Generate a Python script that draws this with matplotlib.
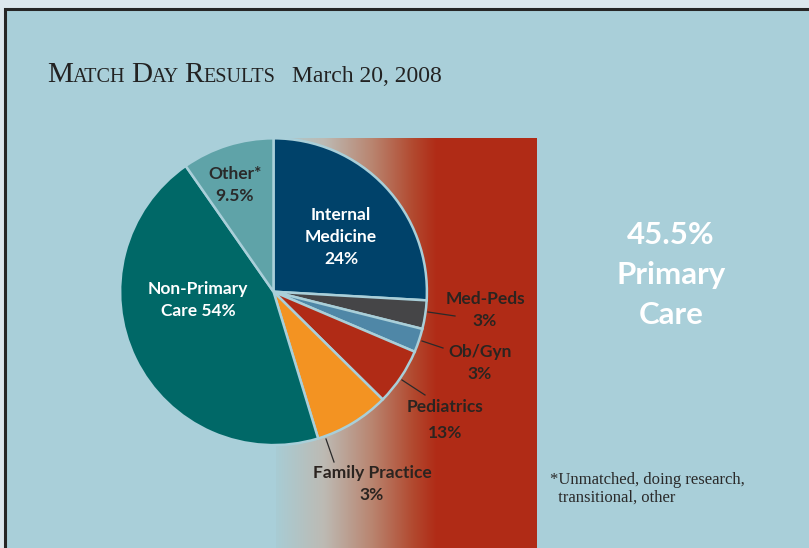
import numpy as np
import matplotlib
matplotlib.use('Agg')
import matplotlib.pyplot as plt
from matplotlib.colors import LinearSegmentedColormap
from matplotlib.patches import Rectangle

# slice sizes (percent of circle), clockwise from 12 o'clock
slices = ['Internal Medicine', 'Med-Peds', 'Ob/Gyn', 'Pediatrics',
          'Family Practice', 'Non-Primary Care', 'Other']
sizes = [25.9, 3.0, 2.5, 6.0, 7.9, 45.0, 9.7]
colors = ['#00426a', '#454547', '#4f87a7', '#b02b16', '#f39322', '#006867', '#5fa3a8']

# printed labels (as they appear on the chart)
inside_labels = ['Internal\nMedicine\n24%', 'Other*\n9.5%', 'Non-Primary\nCare 54%']
outside_labels = ['Med-Peds\n3%', 'Ob/Gyn\n3%', 'Pediatrics', '13%', 'Family Practice\n3%']
primary_total = '45.5%\nPrimary\nCare'
footnote = '*Unmatched, doing research,\n  transitional, other'

W, H = 809, 548
BG = '#a9cfd9'
RED = '#b02b16'


def Y(p):
    # pixel row (from top) -> data y
    return H - p


fig = plt.figure(figsize=(W / 100, H / 100), dpi=100)
fig.patch.set_facecolor('#dce7ed')
ax = fig.add_axes([0, 0, 1, 1])
ax.set_xlim(0, W)
ax.set_ylim(0, H)
ax.axis('off')

# panel with dark border on top / left
ax.add_patch(Rectangle((5, -10), W + 20, Y(9) + 10, facecolor=BG,
                       edgecolor='#262626', lw=2.2, zorder=0))

# gradient band behind the right half of the pie
cmap = LinearSegmentedColormap.from_list(
    'band', [(0.0, '#a8ccd4'), (0.3, '#bdbab3'), (0.6, '#b9846f'),
             (0.85, '#b24a30'), (1.0, RED)])
grad = np.linspace(0, 1, 256).reshape(1, -1)
ax.imshow(grad, cmap=cmap, extent=(276, 437, 0, Y(138)), aspect='auto', zorder=1)
ax.add_patch(Rectangle((436, 0), 537 - 436, Y(138), facecolor=RED,
                       edgecolor='none', zorder=1))

# pie
cx, cy, r = 273.5, 291.7, 153.4
wedges, _ = ax.pie(sizes, colors=colors, startangle=90, counterclock=False,
                   center=(cx, Y(cy)), radius=r, frame=True,
                   wedgeprops=dict(edgecolor=BG, linewidth=1.8, zorder=3))
ax.set_xlim(0, W)
ax.set_ylim(0, H)
ax.set_aspect('auto')
ax.axis('off')

lab = dict(family=['Lato', 'DejaVu Sans'], fontweight='bold', fontsize=12.5,
           ha='center', va='center', zorder=5, linespacing=1.45)

ax.text(341, Y(237), inside_labels[0], color='white', **lab)
ax.text(235, Y(185), inside_labels[1], color='#2a2a2a', **lab)
ax.text(198, Y(300), inside_labels[2], color='white', **lab)

dark = '#2b2420'
ax.text(485, Y(310), outside_labels[0], color=dark, **lab)
ax.text(480, Y(363), outside_labels[1], color=dark, **lab)
ax.text(445, Y(407), outside_labels[2], color=dark, **lab)
ax.text(445, Y(433), outside_labels[3], color=dark, **lab)
ax.text(372, Y(484), outside_labels[4], color=dark, **lab)

# leader lines
leaders = [((428, 312), (455, 316)), ((422, 341), (443, 348)),
           ((402, 380), (425, 395)), ((326, 439), (334, 462))]
for (x0, y0), (x1, y1) in leaders:
    ax.plot([x0, x1], [Y(y0), Y(y1)], color='#2a2a2a', lw=0.9, zorder=4)

ax.text(671, Y(275), primary_total, color='white', fontsize=22.5,
        family=['Lato', 'DejaVu Sans'], fontweight='bold', ha='center',
        va='center', linespacing=1.5, zorder=5)

ax.text(550, Y(489), footnote, color='#2a2a2a', fontsize=12,
        family='Liberation Serif', ha='left', va='center', linespacing=1.1, zorder=5)

# title with small caps
renderer = fig.canvas.get_renderer()
parts = [('M', 21), ('ATCH', 14.5), (' ', 0), ('D', 21), ('AY', 14.5), (' ', 0),
         ('R', 21), ('ESULTS', 14.5)]
x = 47
base = Y(82)
for s, fs in parts:
    if s == ' ':
        x += 5
        continue
    t = ax.text(x, base, s, fontsize=fs, family='Liberation Serif', color='#222222',
                ha='left', va='baseline', zorder=5)
    bb = t.get_window_extent(renderer)
    x = bb.x1 + 0.2
ax.text(x + 16, base, 'March 20, 2008', fontsize=17, family='Liberation Serif',
        color='#222222', ha='left', va='baseline', zorder=5)

fig.savefig('out.png', dpi=100, facecolor=fig.get_facecolor())
